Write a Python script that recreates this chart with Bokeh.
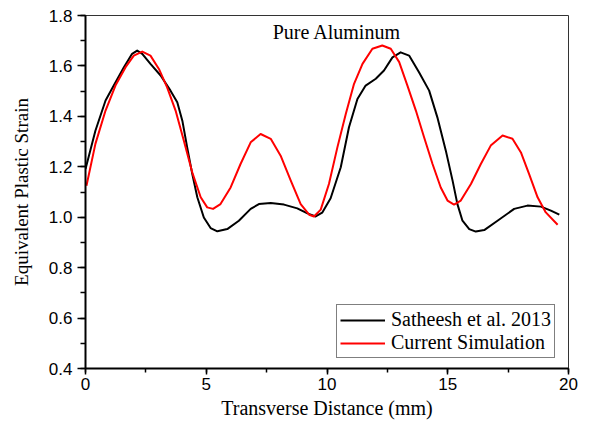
from bokeh.plotting import figure
from bokeh.models import Range1d, SingleIntervalTicker, NumeralTickFormatter, Label, Legend, LegendItem
from bokeh.embed import file_html
from bokeh.resources import INLINE

# Satheesh et al. 2013 (black)
sat_x = [0.0, 0.41, 0.83, 1.17, 1.59, 1.93, 2.14, 2.35, 2.69, 3.11, 3.52, 3.80, 4.01, 4.21,
         4.42, 4.63, 4.90, 5.18, 5.46, 5.87, 6.35, 6.84, 7.18, 7.67, 8.22, 8.77, 9.19, 9.53,
         9.80, 10.15, 10.57, 10.91, 11.26, 11.60, 12.02, 12.36, 12.71, 13.05, 13.40, 13.81,
         14.23, 14.57, 14.92, 15.20, 15.40, 15.61, 15.89, 16.16, 16.51, 17.06, 17.75, 18.30,
         18.86, 19.27, 19.62]
sat_y = [1.191, 1.343, 1.463, 1.522, 1.595, 1.648, 1.661, 1.648, 1.608, 1.562, 1.502, 1.456,
         1.383, 1.277, 1.172, 1.079, 0.999, 0.957, 0.944, 0.953, 0.986, 1.033, 1.052, 1.056,
         1.050, 1.035, 1.015, 1.003, 1.018, 1.075, 1.198, 1.357, 1.469, 1.522, 1.549, 1.582,
         1.634, 1.654, 1.641, 1.575, 1.502, 1.396, 1.264, 1.145, 1.052, 0.986, 0.953, 0.943,
         0.949, 0.986, 1.033, 1.046, 1.042, 1.026, 1.010]

# Current Simulation (red)
sim_x = [0.04, 0.41, 0.83, 1.24, 1.66, 2.00, 2.35, 2.69, 3.04, 3.38, 3.73, 4.07, 4.42, 4.77,
         5.04, 5.28, 5.59, 6.01, 6.42, 6.84, 7.25, 7.67, 8.08, 8.50, 8.91, 9.26, 9.46, 9.74,
         10.08, 10.43, 10.78, 11.12, 11.47, 11.88, 12.29, 12.64, 12.99, 13.33, 13.68, 14.02,
         14.37, 14.71, 14.99, 15.26, 15.54, 15.96, 16.37, 16.78, 17.27, 17.68, 18.03, 18.37,
         18.72, 19.06, 19.55]
sim_y = [1.125, 1.291, 1.423, 1.522, 1.595, 1.641, 1.657, 1.641, 1.588, 1.515, 1.423, 1.304,
         1.178, 1.079, 1.039, 1.033, 1.052, 1.118, 1.211, 1.297, 1.330, 1.311, 1.244, 1.145,
         1.052, 1.010, 1.003, 1.030, 1.132, 1.277, 1.410, 1.529, 1.608, 1.668, 1.681, 1.668,
         1.615, 1.522, 1.423, 1.317, 1.211, 1.118, 1.066, 1.050, 1.066, 1.132, 1.211, 1.284,
         1.324, 1.311, 1.257, 1.171, 1.079, 1.019, 0.970]

series_names = ["Satheesh et al. 2013", "Current Simulation"]
title_text = "Pure Aluminum"
x_label = "Transverse Distance (mm)"
y_label = "Equivalent Plastic Strain"

SERIF = "Liberation Serif"
SANS = "Liberation Sans"

p = figure(width=590, height=423, output_backend="svg", toolbar_location=None,
           x_range=Range1d(0, 20), y_range=Range1d(0.4, 1.8),
           min_border_left=85, min_border_right=22, min_border_top=15, min_border_bottom=55)
p.background_fill_color = "white"
p.border_fill_color = "white"
p.grid.visible = False
p.outline_line_color = "#333333"
p.outline_line_width = 1

p.xaxis.ticker = SingleIntervalTicker(interval=5, num_minor_ticks=2)
p.yaxis.ticker = SingleIntervalTicker(interval=0.2, num_minor_ticks=2)
p.yaxis.formatter = NumeralTickFormatter(format="0.0")

for ax in (p.xaxis[0], p.yaxis[0]):
    ax.axis_line_color = "black"
    ax.axis_line_width = 2
    ax.major_tick_line_color = "black"
    ax.major_tick_line_width = 1.5
    ax.minor_tick_line_color = "black"
    ax.minor_tick_line_width = 1.5
    ax.major_tick_in = 0
    ax.minor_tick_in = 0
    ax.major_label_text_font = SANS
    ax.major_label_text_font_size = "17px"
    ax.major_label_text_color = "black"
    ax.axis_label_text_font = SERIF
    ax.axis_label_text_font_style = "normal"
    ax.axis_label_text_color = "black"

p.xaxis.axis_label_text_font_size = "20px"
p.yaxis.axis_label_text_font_size = "19px"
p.xaxis.major_tick_out = 6
p.xaxis.minor_tick_out = 4
p.yaxis.major_tick_out = 8
p.yaxis.minor_tick_out = 5
p.xaxis.axis_label = x_label
p.yaxis.axis_label = y_label
p.xaxis.major_label_standoff = 3
p.yaxis.major_label_standoff = 5
p.xaxis.axis_label_standoff = 4
p.yaxis.axis_label_standoff = 14

r1 = p.line(sat_x, sat_y, line_color="black", line_width=2, line_join="round")
r2 = p.line(sim_x, sim_y, line_color="#ff0000", line_width=2, line_join="round")

legend = Legend(items=[LegendItem(label=series_names[0], renderers=[r1]),
                       LegendItem(label=series_names[1], renderers=[r2])],
                location=(251, 10))
legend.border_line_color = "black"
legend.border_line_width = 1
legend.background_fill_color = "white"
legend.background_fill_alpha = 1
legend.label_text_font = SERIF
legend.label_text_font_size = "20px"
legend.label_text_color = "black"
legend.glyph_width = 45
legend.glyph_height = 22
legend.label_height = 22
legend.label_standoff = 6
legend.padding = 3
legend.spacing = 0
legend.margin = 0
p.add_layout(legend, "center")

p.add_layout(Label(x=10.41, y=1.736, text=title_text, text_font=SERIF, text_font_size="20px",
                   text_align="center", text_baseline="middle", text_color="black"))

open("out.html", "w").write(file_html(p, INLINE))
